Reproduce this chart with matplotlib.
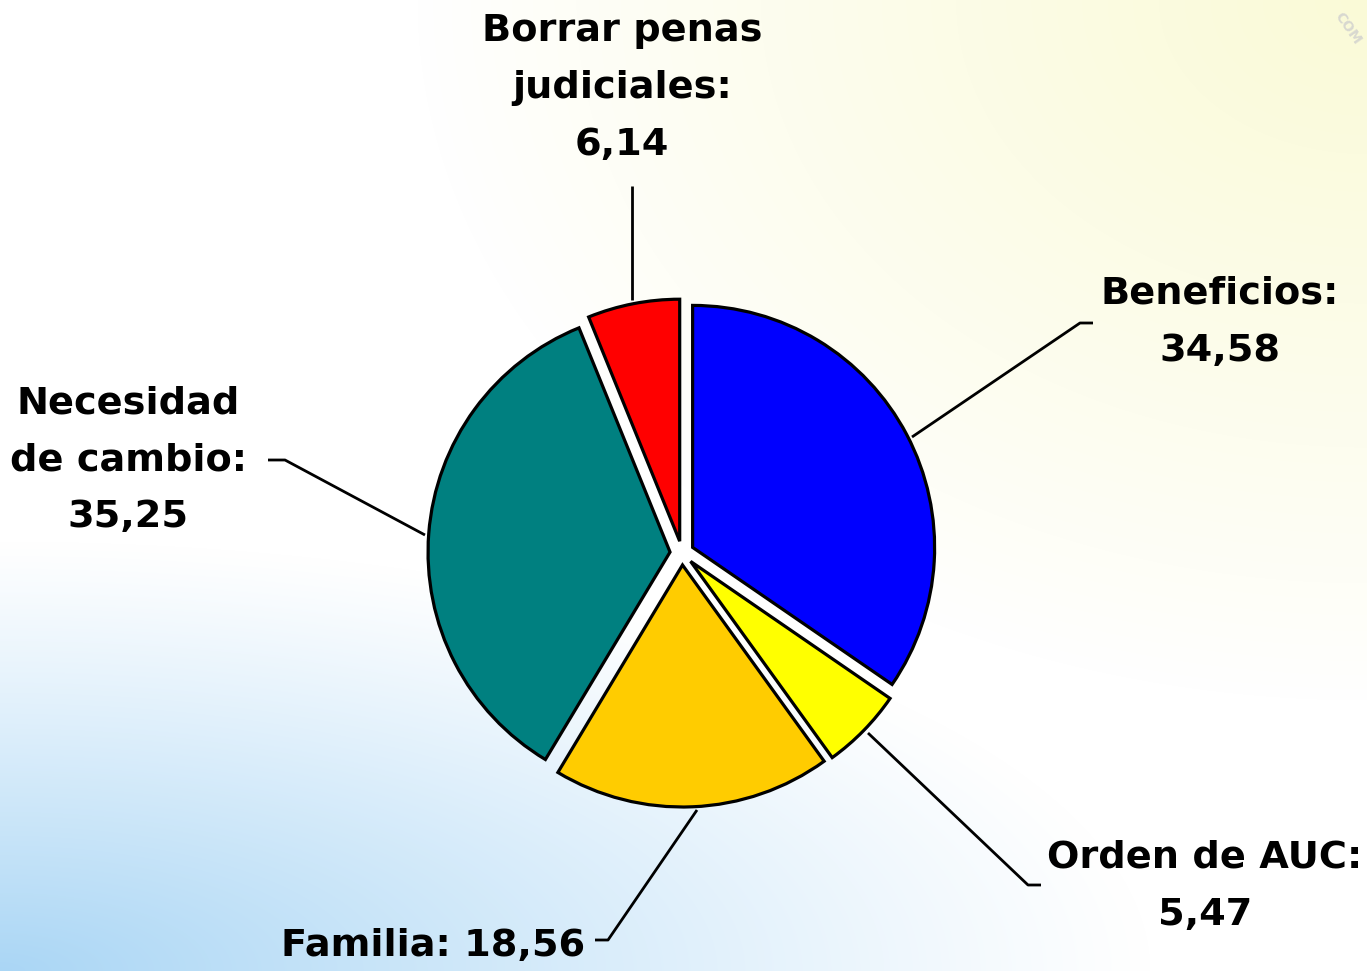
import numpy as np
import matplotlib
matplotlib.use("Agg")
import matplotlib.pyplot as plt
from matplotlib.patches import Arc

# ---- data ----
categories = ["Beneficios", "Orden de AUC", "Familia", "Necesidad\nde cambio", "Borrar penas\njudiciales"]
values = [34.58, 5.47, 18.56, 35.25, 6.14]
value_labels = ["34,58", "5,47", "18,56", "35,25", "6,14"]
colors = ["#0000FF", "#FFFF00", "#FFCC00", "#008080", "#FF0000"]

W, H = 1367, 971
fig = plt.figure(figsize=(W / 100, H / 100), dpi=100)

# background gradient
bg = fig.add_axes([0, 0, 1, 1])
bg.set_axis_off()
yy, xx = np.mgrid[0:H, 0:W]
# yellow tint from top-right corner
dy_ = np.sqrt(((W - xx) / 950.0) ** 2 + (yy / 700.0) ** 2)
ty = np.clip(1 - dy_, 0, 1) ** 0.9
# blue tint from bottom-left corner
db_ = np.sqrt((xx / 1150.0) ** 2 + ((H - yy) / 430.0) ** 2)
tb = np.clip(1 - db_, 0, 1) ** 1.1
yellow = np.array([250, 250, 215]) / 255
blue = np.array([170, 214, 245]) / 255
white = np.array([1.0, 1.0, 1.0])
img = white + ty[..., None] * (yellow - white) + tb[..., None] * (blue - white)
bg.imshow(np.clip(img, 0, 1), extent=[0, W, H, 0], aspect="auto", origin="upper")
bg.set_xlim(0, W)
bg.set_ylim(H, 0)
# decorative arc bottom-right
bg.add_patch(Arc((1367, 1040), 210, 250, theta1=90, theta2=180, color="#888888", lw=1.5))
bg.text(1348, 28, "COM", rotation=-55, color="#d8d8d0", fontsize=10, fontweight="bold",
        ha="center", va="center")

ax = fig.add_axes([0, 0, 1, 1])
ax.set_axis_off()
ax.patch.set_alpha(0)


def P(x, y):
    return (x, H - y)


cx, cy = P(682, 553)
ax.pie(values, colors=colors, startangle=90, counterclock=False,
       center=(cx, cy), radius=242, explode=[12] * len(values),
       wedgeprops=dict(edgecolor="black", linewidth=2.3), frame=True)
ax.set_xlim(0, W)
ax.set_ylim(0, H)
ax.set_aspect("equal")
ax.set_axis_off()

fs = 27.5
labels = [f"{c}:\n{v}" for c, v in zip(categories, value_labels)]
labels[2] = f"{categories[2]}: {value_labels[2]}"

# leader lines (pixel coords)
lines = [
    [(912, 437), (1080, 323), (1093, 323)],
    [(868, 733), (1028, 885), (1041, 885)],
    [(697, 810), (608, 940), (595, 940)],
    [(425, 535), (285, 460), (268, 460)],
    [(632, 300), (632, 186)],
]
for pts in lines:
    xs = [p[0] for p in pts]
    ys = [H - p[1] for p in pts]
    ax.plot(xs, ys, color="black", lw=2.0, solid_capstyle="butt")

text_pos = [(1220, 322), (1205, 886), (433, 946), (128, 460), (622, 88)]
for lab, (tx, ty_) in zip(labels, text_pos):
    ax.text(*P(tx, ty_), lab, ha="center", va="center", fontsize=fs,
            fontweight="bold", family="DejaVu Sans", linespacing=1.75)

fig.savefig("out.png", dpi=100)
